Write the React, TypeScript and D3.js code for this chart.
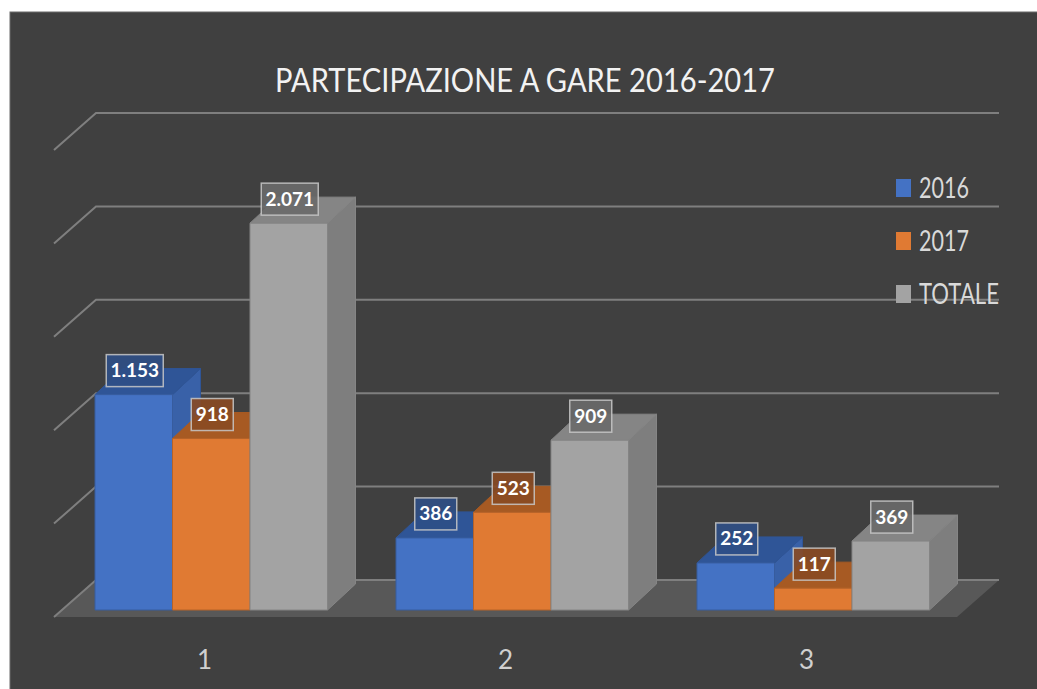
import React from "react";
import * as d3 from "d3";

const categories = ["1", "2", "3"];
const seriesNames = ["2016", "2017", "TOTALE"];
const values2016 = [1153, 386, 252];
const values2017 = [918, 523, 117];
const valuesTotale = [2071, 909, 369];
const gridTicks = [0, 500, 1000, 1500, 2000, 2500];
const title = "PARTECIPAZIONE A GARE 2016-2017";

const seriesValues = [values2016, values2017, valuesTotale];

const palette = [
  { front: "#4472c4", top: "#2f5597", side: "#3961a8", label: "#2f4f86" },
  { front: "#e07a33", top: "#a75a23", side: "#c2682a", label: "#8a4a22" },
  { front: "#a3a3a3", top: "#858585", side: "#7e7e7e", label: "#6a6a6a" },
];

const itLocale = d3.formatLocale({ decimal: ",", thousands: ".", grouping: [3], currency: ["€", ""] });
const fmt = itLocale.format(",d");

export default function App() {
  const W = 1037, H = 689;
  const floorFront = 617, floorBack = 580;
  const wallDx = 42, wallDy = floorFront - floorBack;
  const x0 = 54, x1 = 957;
  const barDx = 28, barDy = 26;
  const barBase = 610;
  const barInset = 41;
  const barGroupW = 232.5;

  const yWall = d3.scaleLinear().domain([0, 2500]).range([floorBack, 113]);
  const k = (floorBack - 113) / 2500;
  const xCat = d3.scaleBand().domain(categories).range([x0, x1]).padding(0);
  const xSeries = d3.scaleBand().domain(seriesNames).range([0, barGroupW]).padding(0);
  const bw = xSeries.bandwidth();

  const labelW = (s: string) => 12 + s.split("").reduce((a, c) => a + (c === "." ? 5 : 10), 0);
  const legendW = (s: string) => (s.length > 4 ? 80 : 50);

  const bars: React.ReactNode[] = [];
  const labels: React.ReactNode[] = [];
  categories.forEach((cat, ci) => {
    seriesNames.forEach((sn, si) => {
      const v = seriesValues[si][ci];
      const c = palette[si];
      const xl = (xCat(cat) as number) + barInset + (xSeries(sn) as number);
      const xr = xl + bw;
      const yt = barBase - v * k;
      const yb = barBase;
      const front = `M${xl},${yt}L${xr},${yt}L${xr},${yb}L${xl},${yb}Z`;
      const top = `M${xl},${yt}L${xl + barDx},${yt - barDy}L${xr + barDx},${yt - barDy}L${xr},${yt}Z`;
      const side = `M${xr},${yt}L${xr + barDx},${yt - barDy}L${xr + barDx},${yb - barDy}L${xr},${yb}Z`;
      bars.push(
        <g key={`${cat}-${sn}`}>
          <path d={side} fill={c.side} stroke={c.top} strokeWidth={1} />
          <path d={top} fill={c.top} stroke={c.top} strokeWidth={1} />
          <path d={front} fill={c.front} stroke={d3.color(c.front)!.darker(0.6).toString()} strokeWidth={1} />
        </g>
      );
      const txt = fmt(v);
      const lw = labelW(txt);
      const cx = (xl + xr) / 2 + 1;
      const cy = yt - 24;
      labels.push(
        <g key={`l-${cat}-${sn}`}>
          <rect x={cx - lw / 2} y={cy - 16} width={lw} height={32} fill={c.label} fillOpacity={0.9} stroke="#c8c8c8" strokeOpacity={0.85} strokeWidth={1.5} />
          <text x={cx} y={cy + 6.5} textAnchor="middle" fill="#ffffff" fontFamily="Lato, 'Open Sans', sans-serif" fontWeight="bold" fontSize={19}>{txt}</text>
        </g>
      );
    });
  });

  return (
    <svg width={W} height={H} style={{ position: "absolute", left: 0, top: 0 }}>
      <rect x={0} y={0} width={W} height={H} fill="#ffffff" />
      <rect x={10} y={12} width={W} height={H} fill="#404040" stroke="#6a6a6a" strokeWidth={1} />
      <text x={525} y={92} textAnchor="middle" fill="#f2f2f2" fontFamily="Lato, 'Open Sans', sans-serif" fontSize={32} textLength={500} lengthAdjust="spacingAndGlyphs">{title}</text>
      {/* floor */}
      <path d={`M${x0},${floorFront}L${x1},${floorFront}L${x1 + wallDx},${floorBack}L${x0 + wallDx},${floorBack}Z`} fill="#585858" />
      {/* gridlines */}
      {gridTicks.map((t) => {
        const y = yWall(t);
        return (
          <path key={t} d={`M${x0},${y + wallDy}L${x0 + wallDx},${y}L${x1 + wallDx},${y}`} fill="none" stroke="#7f7f7f" strokeWidth={2} />
        );
      })}
      {bars}
      {labels}
      {categories.map((cat) => (
        <text key={cat} x={(xCat(cat) as number) + xCat.bandwidth() / 2} y={669} textAnchor="middle" fill="#d0d0d0" fontFamily="Lato, 'Open Sans', sans-serif" fontSize={26}>{cat}</text>
      ))}
      {seriesNames.map((sn, i) => (
        <g key={sn} transform={`translate(896,${179 + i * 53})`}>
          <rect x={0} y={0} width={15} height={18} fill={palette[i].front} />
          <text x={23} y={19} fill="#d9d9d9" fontFamily="Lato, 'Open Sans', sans-serif" fontSize={28} textLength={legendW(sn)} lengthAdjust="spacingAndGlyphs">{sn}</text>
        </g>
      ))}
    </svg>
  );
}
